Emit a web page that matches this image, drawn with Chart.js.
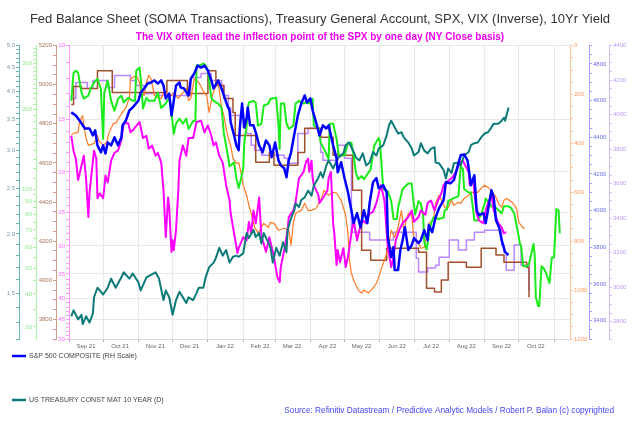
<!DOCTYPE html>
<html>
<head>
<meta charset="utf-8">
<title>Fed Balance Sheet, TGA, SPX, VIX, 10Yr Yield</title>
<script src="https://cdn.jsdelivr.net/npm/chart.js@4.4.0/dist/chart.umd.min.js"></script>
<style>
  html, body { margin: 0; padding: 0; background: #fff; }
  #wrap { width: 640px; height: 429px; }
</style>
</head>
<body>
<div id="wrap"><canvas id="chart" width="640" height="429"></canvas></div>
<script>
// x values are days counted from 1 Sep 2021
const monthTicks = [0, 30, 61, 91, 122, 153, 181, 212, 242, 273, 303, 334, 365, 395, 426];
const monthLabels = ['Sep 21', 'Oct 21', 'Nov 21', 'Dec 21', 'Jan 22', 'Feb 22', 'Mar 22', 'Apr 22',
  'May 22', 'Jun 22', 'Jul 22', 'Aug 22', 'Sep 22', 'Oct 22', ''];

// S&P 500 (blue, RH scale)
const spxDays = [2,6,11,14,18,21,23,25,28,30,32,34,37,40,43,46,47,50,53,56,61,63,66,69,72,75,78,81,83,85,
  88,90,91,94,97,98,101,105,107,110,113,116,119,122,125,127,131,134,136,139,141,142,145,147,149,150,152,154,156,157,
  159,162,164,167,170,173,176,178,181,184,186,189,191,193,195,198,201,204,207,209,212,214,217,220,223,226,228,232,235,236,
  239,242,245,248,250,253,256,259,262,264,267,270,272,276,279,280,283,285,286,289,291,293,295,298,301,303,307,309,312,315,
  316,319,322,325,329,331,335,338,342,344,347,350,351,353,356,358,360,364,366,369,371,373,375,378,380,383,386];
const spxValues = [4536,4519,4476,4448,4448,4410,4438,4356,4318,4356,4312,4372,4356,4400,4356,4400,4465,4492,4546,4563,
  4601,4644,4666,4693,4699,4710,4693,4710,4682,4612,4639,4519,4557,4682,4699,4672,4666,4628,4720,4748,
  4791,4780,4791,4764,4710,4666,4710,4666,4628,4574,4546,4481,4410,4356,4329,4448,4584,4454,4503,4563,
  4465,4465,4427,4356,4318,4383,4356,4291,4372,4274,4247,4231,4182,4274,4318,4421,4519,4584,4628,4590,
  4612,4546,4481,4410,4465,4448,4465,4356,4285,4209,4264,4177,4100,4002,3932,3986,3910,4002,3932,4040,
  4155,4177,4122,4138,4100,3855,3747,3801,3676,3676,3785,3839,3910,3785,3812,3850,3823,3839,3894,3839,
  3921,3883,3964,4013,4057,4155,4149,4166,4258,4302,4307,4274,4231,4138,4193,4002,3975,3986,3932,4040,
  4111,4073,3948,3904,3839,3774,3758];

// US Treasury 10 year yield (teal)
const yieldDays = [2,4,8,11,12,15,18,21,22,25,30,34,37,41,46,48,53,56,61,63,68,72,76,79,83,85,88,91,94,97,
  100,103,105,109,112,114,118,120,123,127,129,132,135,138,141,144,147,149,153,156,158,162,164,167,169,171,175,177,179,182,
  185,188,191,192,195,198,199,202,204,207,210,213,215,219,221,223,226,228,232,236,241,243,246,250,252,255,258,261,264,267,
  270,272,276,279,281,283,286,289,292,294,298,301,303,307,309,312,315,318,321,322,325,329,331,333,336,338,342,344,347,351,
  353,356,359,362,365,368,371,373,377,380,382,383,386];
const yieldValues = [1.34,1.38,1.32,1.35,1.29,1.34,1.30,1.36,1.47,1.54,1.49,1.54,1.61,1.54,1.62,1.66,1.61,1.65,1.58,1.52,
  1.62,1.64,1.66,1.61,1.45,1.52,1.47,1.35,1.45,1.51,1.47,1.43,1.47,1.45,1.50,1.54,1.54,1.62,1.70,1.74,
  1.78,1.87,1.80,1.85,1.74,1.79,1.80,1.79,1.82,2.01,1.96,2.04,1.97,2.01,1.91,2.01,1.92,1.87,1.74,1.87,
  1.80,1.92,1.83,2.04,2.16,2.25,2.32,2.28,2.36,2.39,2.47,2.41,2.53,2.63,2.70,2.63,2.79,2.86,2.75,2.89,
  2.96,3.08,3.12,2.98,2.90,2.86,2.96,2.79,2.83,2.98,2.93,3.03,3.08,3.23,3.39,3.47,3.36,3.26,3.28,3.20,
  3.12,3.03,2.93,2.98,3.11,3.00,2.96,3.03,3.05,2.83,2.82,2.73,2.62,2.75,2.69,2.82,2.83,2.79,2.93,2.98,
  3.08,3.11,3.12,3.20,3.26,3.28,3.36,3.42,3.42,3.47,3.52,3.47,3.70];

// VIX (magenta, inverted scale)
const vixDays = [2,4,6,8,11,13,15,17,18,22,24,25,27,30,32,34,37,40,43,46,48,52,54,57,62,65,68,70,73,76,
  78,81,83,85,87,88,90,91,92,94,96,97,100,103,105,109,112,116,119,122,125,127,129,132,135,138,141,142,145,148,
  149,153,156,158,160,162,164,167,169,171,173,176,180,183,185,186,189,192,193,197,199,202,206,208,210,211,213,214,215,219,
  220,223,227,228,230,232,233,235,236,238,241,243,245,248,250,253,255,258,261,264,267,270,272,274,277,280,283,285,287,290,
  293,298,301,303,307,309,313,315,318,321,324,327,329,331,336,340,343,346,348,351,352,355,356,358,360,364,366,368,371,373,
  377,380,382,384];
const vixValues = [16.4,17.8,18.6,20.9,19.3,18.3,20.7,25.6,22.4,17.8,18.6,23.1,22.5,23.1,20.4,21.2,18.8,18.0,17.8,16.8,
  15.3,15.3,16.1,15.8,15.2,16.6,16.4,17.6,17.3,18.3,18.0,19.0,22.1,28.6,23.0,24.3,31.0,29.1,30.7,27.5,
  22.1,18.8,17.3,18.3,16.6,16.6,15.2,15.1,16.1,15.5,16.4,17.3,17.0,18.3,19.0,21.5,23.4,25.1,28.0,31.2,
  30.4,28.6,29.1,26.3,28.0,24.7,26.5,23.0,28.6,29.6,31.0,28.6,31.9,35.6,36.6,33.7,30.7,27.5,25.6,24.7,
  23.6,20.7,20.0,19.0,18.6,20.0,18.8,20.7,21.5,22.7,23.7,23.1,22.1,20.7,20.0,26.5,28.0,33.3,30.7,32.8,
  30.4,33.7,31.9,28.0,26.1,29.1,27.5,26.1,26.5,25.1,24.9,23.7,22.5,21.5,23.4,30.2,33.7,31.9,29.1,27.5,
  26.5,25.6,24.7,26.3,25.6,24.7,25.3,23.7,23.4,24.7,23.4,22.5,21.5,21.2,20.7,20.0,19.0,18.8,19.3,20.0,
  21.5,20.7,22.4,25.1,26.1,26.5,24.7,23.7,22.7,24.7,26.5,27.1,28.0,27.8];

// SOMA transactions (green, log scale)
const somaDays = [2,4,6,8,11,13,17,19,22,25,28,30,31,34,37,40,43,46,48,52,56,58,59,62,63,65,68,70,75,78,
  81,85,88,90,92,94,97,100,103,105,109,111,112,114,118,120,122,125,127,131,134,136,138,140,141,145,147,149,151,153,
  154,156,157,158,162,164,166,169,171,175,177,182,184,185,186,189,191,193,197,199,202,206,208,211,214,215,219,221,224,228,
  229,232,235,237,242,245,248,250,252,254,257,259,265,268,272,273,275,276,280,283,285,288,289,291,293,298,301,302,304,307,
  309,311,312,314,315,316,318,320,325,329,330,332,333,337,342,344,346,347,351,353,355,356,359,362,365,366,371,375,380,382,
  386,388,391,395,396,397,399,402,404,408,409,410,412,413,415,417,419,422,424,426,428,430,431];
const somaValues = [216,276,281,276,232,220,226,240,253,262,240,155,232,258,216,198,220,226,213,222,216,216,281,289,262,202,222,216,216,232,
  203,211,222,195,162,177,185,177,185,169,181,181,294,294,299,294,281,222,216,211,203,163,146,130,122,126,110,101,109,120,
  150,174,202,213,216,213,174,177,207,211,220,222,174,142,211,211,178,169,174,211,216,211,213,211,220,174,171,150,142,130,
  177,177,155,134,134,150,150,134,115,109,112,109,119,146,156,152,115,100,98,90,77,77,85,92,100,105,105,94,80,90,
  88,80,63,59,62,68,74,78,77,78,83,84,90,92,94,122,119,100,97,97,83,76,76,80,88,92,86,85,81,86,
  86,85,81,66,62,61,51,51,52,62,56,39,36,36,51,50,48,44,55,55,84,83,68];

// Treasury General Account (orange, inverted scale)
const tgaDays = [2,4,8,9,11,12,13,15,17,22,25,26,30,33,35,39,41,44,47,50,53,54,56,59,62,63,66,68,70,72,
  75,78,81,83,87,90,92,96,98,103,105,107,110,114,119,121,123,126,128,131,134,136,138,140,142,144,147,149,151,153,
  156,158,160,163,166,169,171,175,177,180,184,189,193,195,197,199,204,207,210,213,217,221,224,228,232,235,239,243,245,246,
  248,250,254,257,259,263,267,270,272,274,277,279,281,283,286,289,292,294,298,301,303,307,309,312,315,316,320,322,325,330,
  333,336,338,342,344,347,351,353,359,362,365,368,371,375,377,380,382,384,387,390,393,395,399,400];
const tgaValues = [367,359,355,318,294,286,327,380,408,400,367,388,408,396,359,318,318,294,273,253,216,135,131,122,151,192,204,151,122,135,
  204,212,216,192,196,204,192,216,204,176,225,216,135,151,196,204,273,204,176,151,253,286,339,380,408,461,482,478,518,571,
  612,653,686,743,767,743,727,743,723,727,755,747,755,816,727,686,674,645,674,674,665,633,592,612,600,604,633,694,767,865,
  931,959,1000,1012,1000,1012,992,972,947,918,878,849,808,755,784,743,674,755,686,694,796,808,829,825,767,727,714,645,612,661,
  661,633,653,641,645,625,612,600,600,584,571,580,592,620,645,661,633,625,633,645,665,723,747,743];

// Fed balance sheet (brown, weekly steps)
const fedDays = [2,4,11,25,38,86,104,122,129,136,144,146,164,176,180,201,207,221,232,249,
  257,265,279,307,314,321,327,333,349,362,375,382,402,404];
const fedValues = [4899,4991,4981,5072,4960,5021,4955,5072,4996,4930,4858,4741,4603,4654,4588,4654,4777,4731,4639,4460,
  4154,4103,4164,4144,3960,3940,4001,4093,4067,4164,4129,4093,4067,3914];

// SOMA treasury holdings (lavender, weekly steps)
const tsyDays = [2,6,16,21,33,40,54,59,66,79,107,116,125,134,136,140,142,153,156,160,163,169,189,192,201,
  210,220,221,223,236,242,248,264,285,305,307,315,322,325,334,342,349,356,365,380,382,384,391,397,404];
const tsyValues = [4094,4186,4151,4198,4157,4227,4198,4169,4122,4111,4215,4238,4198,4169,4111,4042,3995,3926,3891,3822,3793,3764,3747,3718,3891,
  3920,3880,3781,3735,3822,3747,3319,3273,3319,3168,3088,3111,3128,3174,3273,3215,3273,3319,3330,3244,3203,3099,3244,3128,2983];

// labelled tick values of each axis
const yieldTicks = [1.5, 2.0, 2.5, 3.0, 3.5, 4.0, 4.5, 5.0];
const somaTicks = [30, 40, 50, 60, 70, 80, 90, 100, 200, 300];
const fedTicks = [3800, 4000, 4200, 4400, 4600, 4800, 5000, 5200];
const vixTicks = [10, 15, 20, 25, 30, 35, 40, 45, 50];
const tgaTicks = [0, 200, 400, 600, 800, 1000, 1200];
const spxTicks = [3400, 3600, 3800, 4000, 4200, 4400, 4600, 4800];
const tsyTicks = [2800, 3000, 3200, 3400, 3600, 3800, 4000, 4200, 4400];

const titleText = 'Fed Balance Sheet (SOMA Transactions), Treasury General Account, SPX, VIX (Inverse), 10Yr Yield';
const subtitleText = 'The VIX often lead the inflection point of the SPX by one day (NY Close basis)';
const sourceText = 'Source: Refinitiv Datastream / Predictive Analytic Models / Robert P. Balan (c) copyrighted';

Chart.defaults.font.family = '"Liberation Sans", Arial, sans-serif';

function points(days, values) {
  return days.map((d, i) => ({ x: d, y: values[i] }));
}

// minor tick positions between min and max
function steps(min, max, step) {
  const out = [];
  for (let v = min; v <= max + 1e-9; v += step) out.push(Math.round(v * 1000) / 1000);
  return out;
}

function isMajor(list, v) {
  return list.some(m => Math.abs(m - v) < 1e-6);
}

/**
 * Build one y axis with its own colours and minor ticks
 */
function yAxis(opts) {
  return {
    type: opts.type || 'linear',
    position: opts.position,
    min: opts.min,
    max: opts.max,
    reverse: !!opts.reverse,
    afterBuildTicks: (scale) => {
      scale.ticks = opts.minor.map(v => ({ value: v }));
    },
    afterFit: (scale) => {
      scale.width = opts.width;
    },
    border: { color: opts.line, width: 1 },
    grid: {
      drawOnChartArea: !!opts.grid,
      color: (c) => (opts.grid && c.tick && isMajor(opts.major, c.tick.value)) ? '#e9e9e9' : 'rgba(0,0,0,0)',
      tickColor: opts.line,
      tickLength: 3
    },
    ticks: {
      autoSkip: false,
      color: opts.label,
      padding: 1,
      font: { size: 6 },
      callback: (v) => isMajor(opts.major, v) ? (opts.fmt ? opts.fmt(v) : String(v)) : ''
    }
  };
}

const footerPlugin = {
  id: 'footer',
  afterDraw(chart) {
    const c = chart.ctx;
    const sets = chart.data.datasets;
    c.save();
    const rows = [
      { ds: sets[0], y: 356 },
      { ds: sets[1], y: 400 }
    ];
    rows.forEach(r => {
      c.strokeStyle = r.ds.borderColor;
      c.lineWidth = 2.5;
      c.beginPath();
      c.moveTo(12, r.y);
      c.lineTo(26, r.y);
      c.stroke();
      c.fillStyle = '#444';
      c.font = '7px "Liberation Sans", Arial, sans-serif';
      c.textBaseline = 'middle';
      c.textAlign = 'left';
      c.fillText(r.ds.label, 29, r.y);
    });
    // source line
    c.font = '9px "Liberation Sans", Arial, sans-serif';
    const w = c.measureText(sourceText).width;
    const size = 9 * 330 / w;
    c.font = size.toFixed(2) + 'px "Liberation Sans", Arial, sans-serif';
    c.fillStyle = '#4646f0';
    c.textAlign = 'right';
    c.fillText(sourceText, 614, 411);
    c.restore();
  }
};

new Chart(document.getElementById('chart'), {
  type: 'line',
  data: {
    datasets: [
      { label: 'S&P 500 COMPOSITE (RH Scale)', data: points(spxDays, spxValues), yAxisID: 'ySpx',
        borderColor: '#0000ff', borderWidth: 2.5 },
      { label: 'US TREASURY CONST MAT 10 YEAR (D)', data: points(yieldDays, yieldValues), yAxisID: 'yYield',
        borderColor: '#0b7a78', borderWidth: 2 },
      { label: 'VIX (Inverse)', data: points(vixDays, vixValues), yAxisID: 'yVix',
        borderColor: '#ff00ff', borderWidth: 2 },
      { label: 'SOMA Transactions', data: points(somaDays, somaValues), yAxisID: 'ySoma',
        borderColor: '#1aeb1a', borderWidth: 2 },
      { label: 'Treasury General Account (Inverse)', data: points(tgaDays, tgaValues), yAxisID: 'yTga',
        borderColor: '#ff7a26', borderWidth: 1.2 },
      { label: 'Fed Balance Sheet', data: points(fedDays, fedValues), yAxisID: 'yFed',
        borderColor: '#a0502d', borderWidth: 1.5, stepped: true },
      { label: 'SOMA Treasury Holdings', data: points(tsyDays, tsyValues), yAxisID: 'yTsy',
        borderColor: '#b987ff', borderWidth: 1.5, stepped: true }
    ]
  },
  options: {
    responsive: false,
    animation: false,
    events: [],
    layout: { padding: { left: 0, right: 0, top: 0, bottom: 76 } },
    elements: {
      point: { radius: 0 },
      line: { tension: 0, borderJoinStyle: 'round', fill: false }
    },
    plugins: {
      legend: { display: false },
      tooltip: { enabled: false },
      title: {
        display: true,
        text: titleText,
        color: '#333',
        font: { size: 13, weight: 'normal' },
        padding: { top: 12, bottom: 3 }
      },
      subtitle: {
        display: true,
        text: subtitleText,
        color: '#ee00ee',
        font: { size: 10, weight: 'bold' },
        padding: { top: 1, bottom: 2 }
      }
    },
    scales: {
      x: {
        type: 'linear',
        position: 'bottom',
        min: 0,
        max: 440,
        afterBuildTicks: (scale) => {
          scale.ticks = monthTicks.map(v => ({ value: v }));
        },
        afterFit: (scale) => { scale.height = 14; },
        border: { color: '#d8d8d8' },
        grid: { color: '#e9e9e9', tickColor: '#aaa', tickLength: 3 },
        ticks: {
          autoSkip: false,
          maxRotation: 0,
          labelOffset: 17,
          padding: 1,
          color: '#666',
          font: { size: 6 },
          callback: (v, i) => monthLabels[i]
        }
      },
      // left axes are listed from the plot outwards
      yVix: yAxis({ type: 'logarithmic', position: 'left', min: 10, max: 50, width: 13, reverse: true, grid: true,
        minor: steps(10, 50, 1), major: vixTicks,
        line: '#ff99ff', label: '#ff66ff' }),
      yFed: yAxis({ position: 'left', min: 3700, max: 5200, width: 20,
        minor: steps(3700, 5200, 50), major: fedTicks,
        line: '#cf9f88', label: '#a8755d' }),
      ySoma: yAxis({ type: 'logarithmic', position: 'left', min: 27, max: 350, width: 17,
        minor: steps(30, 100, 5).concat(steps(110, 340, 10)), major: somaTicks,
        line: '#a8f5a8', label: '#8ee88e' }),
      yYield: yAxis({ type: 'logarithmic', position: 'left', min: 1.2, max: 5.0, width: 19,
        minor: steps(1.2, 5.0, 0.1), major: yieldTicks, fmt: v => v.toFixed(1),
        line: '#6fb8b8', label: '#7d98a4' }),
      yTga: yAxis({ position: 'right', min: 0, max: 1200, width: 19, reverse: true,
        minor: steps(0, 1200, 50), major: tgaTicks,
        line: '#ffc39a', label: '#ff9a5c' }),
      ySpx: yAxis({ position: 'right', min: 3300, max: 4900, width: 20,
        minor: steps(3300, 4900, 50), major: spxTicks,
        line: '#a0a0ff', label: '#6e6ef0' }),
      yTsy: yAxis({ position: 'right', min: 2700, max: 4400, width: 31,
        minor: steps(2700, 4400, 50), major: tsyTicks,
        line: '#d2bcff', label: '#bb9cf2' })
    }
  },
  plugins: [footerPlugin]
});
</script>
</body>
</html>
